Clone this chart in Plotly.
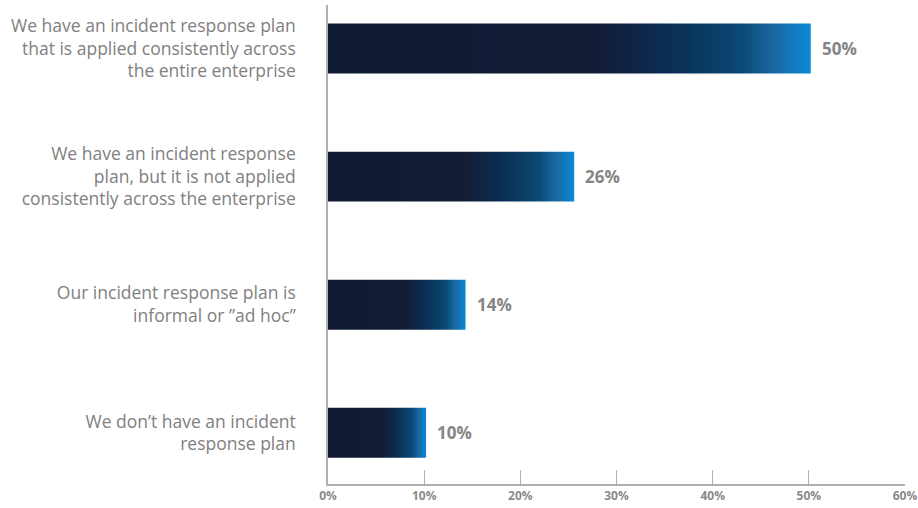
import plotly.graph_objects as go

categories = [
    "We have an incident response plan<br>that is applied consistently across<br>the entire enterprise",
    "We have an incident response<br>plan, but it is not applied<br>consistently across the enterprise",
    "Our incident response plan is<br>informal or \u201dad hoc\u201d",
    "We don\u2019t have an incident<br>response plan",
]
values = [50.2, 25.6, 14.3, 10.2]
value_labels = ["50%", "26%", "14%", "10%"]
x_ticks = [0, 10, 20, 30, 40, 50, 60]
x_tick_labels = ["0%", "10%", "20%", "30%", "40%", "50%", "60%"]

gradient = [
    [0.0, "#0f1a33"],
    [0.55, "#141c36"],
    [0.68, "#0b2a4e"],
    [0.80, "#0a3f66"],
    [0.86, "#0a4a78"],
    [0.92, "#1a67a0"],
    [1.0, "#0b88d6"],
]

n = len(categories)
ypos = [n - 1 - i for i in range(n)]
bw = 0.39

fig = go.Figure()
for v, y in zip(values, ypos):
    fig.add_trace(go.Scatter(
        x=[0, v, v, 0, 0],
        y=[y - bw / 2, y - bw / 2, y + bw / 2, y + bw / 2, y - bw / 2],
        mode="lines",
        line=dict(width=0),
        fill="toself",
        fillgradient=dict(type="horizontal", colorscale=gradient),
        hoverinfo="skip",
        showlegend=False,
    ))

for v, y, t in zip(values, ypos, value_labels):
    fig.add_annotation(
        x=v, y=y, text=t, showarrow=False, xanchor="left", yanchor="middle",
        xshift=9, font=dict(family="Open Sans", size=17, color="#858585", weight="bold"),
    )

fig.update_layout(
    width=918, height=508,
    margin=dict(l=328, r=13, t=5, b=24, autoexpand=False),
    plot_bgcolor="white", paper_bgcolor="white",
    showlegend=False,
    xaxis=dict(
        range=[0, 60], tickvals=x_ticks, ticktext=x_tick_labels,
        showgrid=False, zeroline=False, showline=True, linecolor="#b0b0b0", linewidth=1.5,
        ticks="inside", ticklen=14, tickcolor="#b0b0b0", tickwidth=1,
        tickfont=dict(family="Open Sans", size=12, color="#8a8a8a", weight="bold"),
        fixedrange=True,
    ),
    yaxis=dict(
        range=[-0.4, 3.34], tickvals=ypos, ticktext=categories,
        showgrid=False, zeroline=False, showline=True, linecolor="#b0b0b0", linewidth=1.5,
        ticks="", ticklabelstandoff=27,
        tickfont=dict(family="Open Sans", size=17.5, color="#808080"),
        fixedrange=True,
    ),
)

fig.write_html(
    "out.html",
    config={"displayModeBar": False},
    post_script="document.body.style.margin='0px';",
)
